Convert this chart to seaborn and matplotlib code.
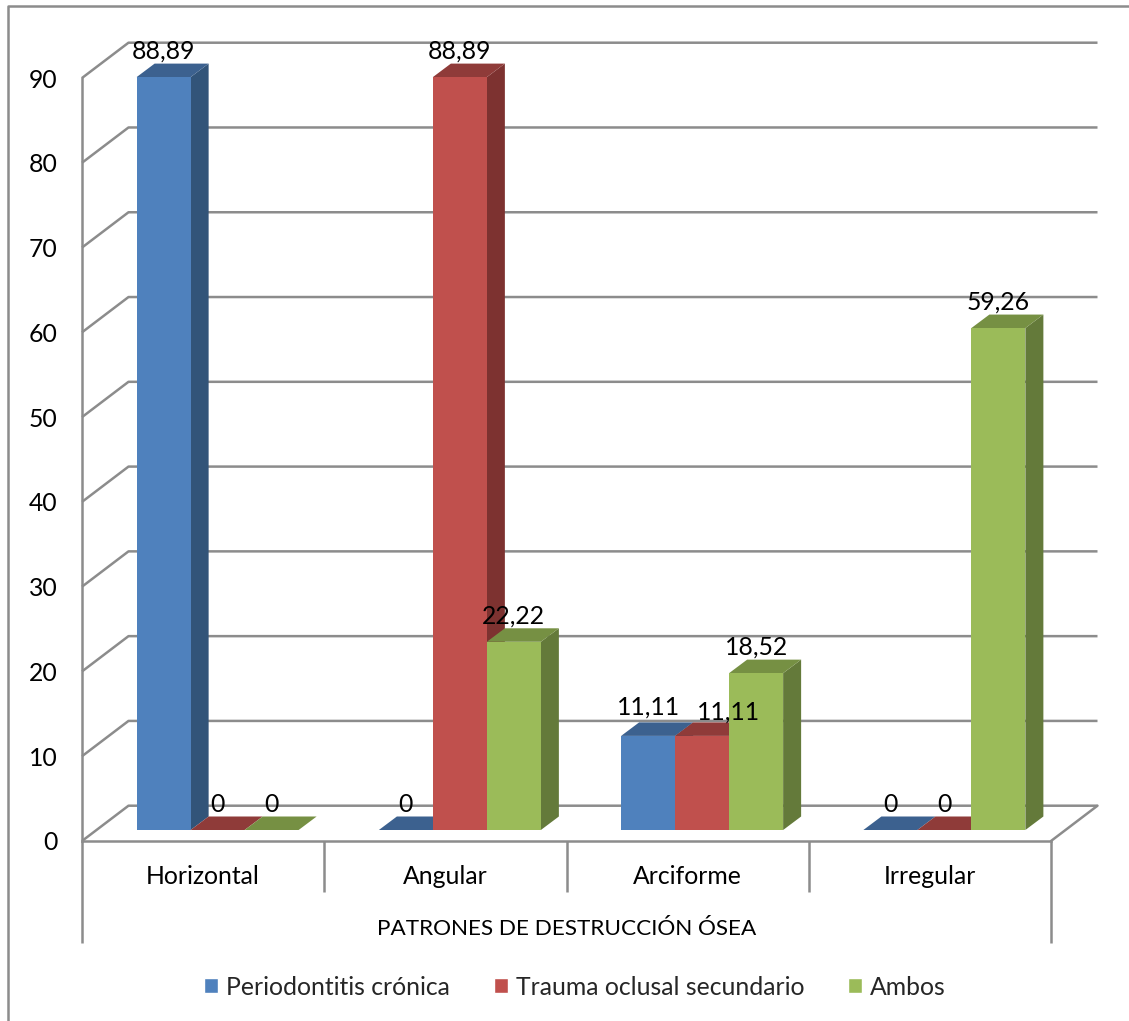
import matplotlib
matplotlib.use("Agg")
import matplotlib.pyplot as plt
from matplotlib.lines import Line2D
from matplotlib.patches import Polygon
import pandas as pd
import seaborn as sns

# Porcentaje de cada patrón de destrucción ósea según el diagnóstico
patrones = ["Horizontal", "Angular", "Arciforme", "Irregular"]
series = ["Periodontitis crónica", "Trauma oclusal secundario", "Ambos"]
periodontitis = [88.89, 0, 11.11, 0]
trauma = [0, 88.89, 11.11, 0]
ambos = [0, 22.22, 18.52, 59.26]
marcas_y = [0, 10, 20, 30, 40, 50, 60, 70, 80, 90]

color_frente = ["#4f81bd", "#c0504d", "#9bbb59"]
color_tapa = ["#3c618f", "#8f3b39", "#769043"]
color_lado = ["#325479", "#7d3230", "#647a3a"]
GRIS = "#8c8c8c"
ANCHO_LINEA = 1.8

W, H = 1129, 1021
sns.set_theme(style="white")
plt.rcParams["font.family"] = ["Lato", "DejaVu Sans"]
FUENTE = 17.8

tabla = pd.DataFrame({
    "patron": patrones * 3,
    "serie": [s for s in series for _ in patrones],
    "valor": periodontitis + trauma + ambos,
})

fig = plt.figure(figsize=(W / 100, H / 100), dpi=100, facecolor="white")

# Marco exterior del gráfico
fig.add_artist(Line2D([7.5 / W, 7.5 / W, 1], [0, 1 - 6.5 / H, 1 - 6.5 / H],
                      color=GRIS, lw=ANCHO_LINEA, transform=fig.transFigure))

# Plano frontal: eje de valores, categorías, paredes y suelo en perspectiva
base = fig.add_axes([82 / W, 1 - 841 / H, 969 / W, 763 / H], facecolor="none")
base.set_xlim(-0.5, 3.5)
base.set_ylim(0, 90)
esc_x = 969 / 4
esc_y = 763 / 90
fondo_x = 46.5 / esc_x
fondo_y = 35.3 / esc_y
for v in marcas_y:
    base.plot([-0.5, -0.5 + fondo_x, 3.5 + fondo_x], [v, v + fondo_y, v + fondo_y],
              color=GRIS, lw=ANCHO_LINEA, clip_on=False, zorder=1, solid_capstyle="butt")
base.plot([3.5, 3.5 + fondo_x], [0, fondo_y], color=GRIS, lw=ANCHO_LINEA, clip_on=False, zorder=1)

base.set_xticks(range(len(patrones)), patrones)
base.set_yticks(marcas_y)
base.tick_params(axis="x", length=0, pad=17, labelsize=FUENTE, labelcolor="black")
base.tick_params(axis="y", length=8 * 0.72, width=ANCHO_LINEA, color=GRIS, pad=12,
                 labelsize=FUENTE, labelcolor="black")
base.set_xlabel("PATRONES DE DESTRUCCIÓN ÓSEA", fontsize=16.2, color="black", labelpad=22.5)
for lado in ("top", "right"):
    base.spines[lado].set_visible(False)
for lado in ("left", "bottom"):
    base.spines[lado].set_color(GRIS)
    base.spines[lado].set_linewidth(ANCHO_LINEA)

# Divisiones de categoría bajo el eje
base.vlines([0.5, 1.5, 2.5], -51 / esc_y, 0, color=GRIS, lw=ANCHO_LINEA, clip_on=False)
base.vlines([-0.5, 3.5], -102 / esc_y, 0, color=GRIS, lw=ANCHO_LINEA, clip_on=False)

# Columnas, en un plano algo adelantado respecto a las paredes
ax = fig.add_axes([96.5 / W, 1 - 830 / H, 969 / W, 90 * 8.47 / H], facecolor="none")
sns.barplot(data=tabla, x="patron", y="valor", hue="serie", order=patrones, hue_order=series,
            palette=color_frente, saturation=1, width=162 / 242.25, gap=0, dodge=True,
            errorbar=None, ax=ax, legend=True)
ax.set_xlim(-0.5, 3.5)
ax.set_ylim(0, 90)
ax.set_xlabel("")
ax.set_ylabel("")
ax.set_xticks([])
ax.set_yticks([])
for s in ax.spines.values():
    s.set_visible(False)

prof_x = 18 / esc_x
prof_y = 13.5 / 8.47

desplaza_etiqueta = {(1, 2): (26, 24), (0, 2): (0, 29)}
barras = []
for i_serie, cont in enumerate(ax.containers):
    for i_cat, r in enumerate(cont.patches):
        barras.append((r.get_x(), i_serie, i_cat, r))

z = 3
for x0, i_serie, i_cat, r in sorted(barras, key=lambda b: b[0]):
    x1 = x0 + r.get_width()
    alto = r.get_height()
    r.set_clip_on(False)
    r.set_edgecolor("none")
    if alto > 0:
        ax.add_patch(Polygon([(x1, 0), (x1 + prof_x, prof_y), (x1 + prof_x, alto + prof_y), (x1, alto)],
                             closed=True, fc=color_lado[i_serie], ec="none", zorder=z, clip_on=False))
    ax.add_patch(Polygon([(x0, alto), (x1, alto), (x1 + prof_x, alto + prof_y), (x0 + prof_x, alto + prof_y)],
                         closed=True, fc=color_tapa[i_serie], ec="none", zorder=z, clip_on=False))
    r.set_zorder(z + 0.5)
    z += 1

# Etiquetas de valor con coma decimal, encima de todas las columnas
for x0, i_serie, i_cat, r in barras:
    dx, dy = desplaza_etiqueta.get((i_serie, i_cat), (0, 26))
    texto = f"{r.get_height():.2f}".replace(".", ",") if r.get_height() else "0"
    ax.annotate(texto, (x0 + r.get_width() / 2, r.get_height()),
                xytext=(dx * 0.72, dy * 0.72), textcoords="offset points",
                ha="center", va="center", fontsize=FUENTE, color="black",
                annotation_clip=False, zorder=100)

manejadores, etiquetas = ax.get_legend_handles_labels()
ax.legend(manejadores, etiquetas, loc="center", bbox_to_anchor=(575 / W, 1 - 987 / H),
          bbox_transform=fig.transFigure, ncols=3, frameon=False, fontsize=FUENTE,
          handlelength=0.566, handleheight=0.566, handletextpad=0.32, columnspacing=1.78)

fig.savefig("out.png", dpi=100)
